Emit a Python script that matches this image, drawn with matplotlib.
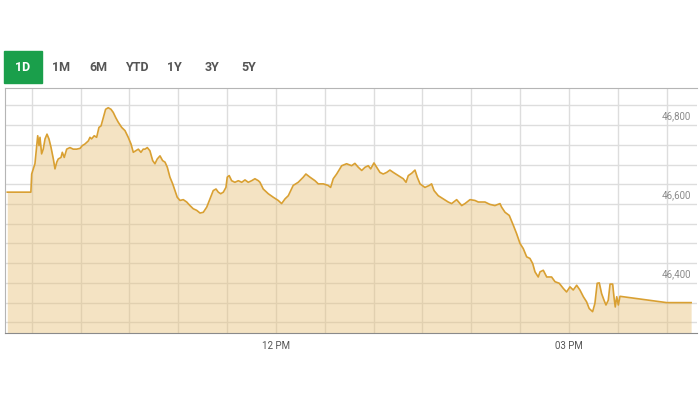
import matplotlib
matplotlib.use("Agg")
from matplotlib import pyplot as plt

# KSE-100 intraday, minutes after 09:30
minutes = [-15, -0.5, 0, 2.0, 3.7, 4.5, 5.1, 6.1, 7.1, 8.2, 9.4, 10.6, 11.9, 13.3, 14.3, 15.4,
           16.3, 18.0, 18.8, 20.0, 21.5, 23.5, 25.5, 27.6, 29.7, 31.1, 32.7, 34.8, 35.8, 36.8,
           38.4, 39.9, 41.3, 42.6, 44.0, 45.4, 47.0, 48.7, 50.1, 51.6, 53.2, 55.3, 57.3, 59.3,
           61.0, 62.4, 63.9, 65.5, 67.1, 68.5, 69.6, 71.0, 72.6, 74.3, 75.7, 77.1, 78.8, 80.4,
           81.9, 83.3, 84.9, 86.6, 88.0, 89.4, 91.1, 93.1, 95.2, 97.2, 99.2, 101.3, 103.4, 105.4,
           107.5, 109.5, 111.5, 113.2, 114.6, 116.1, 117.7, 119.3, 120.1, 121.3, 122.8, 124.8,
           126.9, 129.0, 131.0, 133.0, 135.1, 137.1, 139.2, 140.2, 142.2, 145.3, 148.4, 151.4,
           153.5, 155.6, 157.6, 160.6, 163.7, 166.8, 168.4, 170.9, 174.0, 176.0, 179.1, 182.1,
           183.6, 185.2, 187.3, 190.4, 193.4, 196.5, 198.5, 200.6, 202.7, 204.7, 206.7, 208.2,
           210.2, 211.9, 213.9, 215.9, 218.0, 220.0, 222.1, 225.1, 228.2, 229.9, 231.3, 233.4,
           235.4, 236.8, 238.5, 241.5, 244.2, 245.6, 247.1, 249.7, 252.8, 255.8, 257.9, 261.0,
           264.1, 266.1, 269.2, 272.2, 274.3, 275.3, 278.4, 281.4, 284.5, 287.6, 288.6, 290.7,
           293.3, 295.8, 297.8, 299.9, 301.9, 304.0, 306.0, 307.7, 309.1, 311.1, 312.2, 314.2,
           316.3, 319.3, 321.4, 324.0, 326.5, 328.5, 330.6, 332.6, 334.7, 336.7, 338.8, 340.8,
           342.4, 344.5, 345.9, 347.3, 348.6, 350.0, 351.5, 352.7, 354.1, 355.2, 356.8, 357.6,
           358.4, 359.3, 360.3, 361.3, 390.0, 405.0]
index = [46630, 46630, 46676, 46702, 46773, 46748, 46769, 46727, 46739, 46765, 46777, 46765,
         46743, 46714, 46689, 46706, 46714, 46718, 46731, 46718, 46739, 46743, 46739, 46739,
         46741, 46748, 46752, 46760, 46769, 46765, 46773, 46769, 46794, 46798, 46819, 46840,
         46844, 46840, 46832, 46819, 46807, 46794, 46786, 46769, 46752, 46731, 46735, 46739,
         46731, 46739, 46739, 46743, 46735, 46710, 46702, 46714, 46722, 46710, 46706, 46693,
         46668, 46651, 46634, 46617, 46609, 46611, 46605, 46596, 46588, 46584, 46577, 46579,
         46592, 46613, 46634, 46638, 46630, 46626, 46630, 46642, 46668, 46672, 46659, 46655,
         46659, 46655, 46661, 46655, 46659, 46664, 46659, 46655, 46638, 46626, 46617, 46609,
         46601, 46613, 46621, 46647, 46655, 46668, 46676, 46668, 46659, 46651, 46651, 46647,
         46642, 46664, 46676, 46697, 46702, 46697, 46703, 46693, 46685, 46693, 46697, 46689,
         46704, 46693, 46680, 46676, 46680, 46686, 46680, 46672, 46664, 46655, 46672, 46678,
         46686, 46668, 46651, 46642, 46647, 46651, 46634, 46621, 46613, 46605, 46601, 46611,
         46596, 46601, 46611, 46609, 46605, 46605, 46605, 46599, 46596, 46601, 46592, 46579,
         46571, 46546, 46525, 46500, 46487, 46466, 46462, 46449, 46428, 46415, 46428, 46432,
         46415, 46415, 46403, 46399, 46386, 46377, 46390, 46382, 46394, 46382, 46365, 46352,
         46335, 46327, 46348, 46399, 46400, 46373, 46356, 46344, 46356, 46397, 46397, 46365,
         46339, 46365, 46344, 46366, 46350, 46350]

periods = ["1D", "1M", "6M", "YTD", "1Y", "3Y", "5Y"]
y_ticks = [46400, 46600, 46800]
y_tick_labels = ["46,400", "46,600", "46,800"]
x_ticks = [150, 330]
x_tick_labels = ["12 PM", "03 PM"]

plt.rcParams["font.family"] = ["Roboto", "DejaVu Sans"]

fig = plt.figure(figsize=(7, 4), dpi=100)
ax = fig.add_axes([4.5 / 700, 67 / 400, 692.5 / 700, 245 / 400])

ax.fill_between(minutes, index, 46273, color="#e8c27a", alpha=0.45, lw=0, zorder=2)
ax.plot(minutes, index, color="#d9a032", lw=1.2, zorder=3)

ax.set_xlim(-16.7, 408.6)
ax.set_ylim(46273, 46894)

# grid every 30 min / 50 points
for m in range(0, 391, 30):
    ax.axvline(m, color="#dddddd", lw=1, zorder=1)
for v in range(46300, 46851, 50):
    ax.axhline(v, color="#dddddd", lw=1, zorder=1)

ax.set_xticks([])
ax.set_yticks([])
for v, lab in zip(y_ticks, y_tick_labels):
    ax.annotate(lab, xy=(405, v), xytext=(0, 3), textcoords="offset points",
                ha="right", va="bottom", fontsize=7, color="#8a8a8a")
for m, lab in zip(x_ticks, x_tick_labels):
    ax.annotate(lab, xy=(m, 46273), xytext=(0, -6), textcoords="offset points",
                ha="center", va="top", fontsize=7, color="#555555", annotation_clip=False)

ax.spines["right"].set_visible(False)
ax.spines["top"].set_color("#b5b5b5")
ax.spines["left"].set_color("#b5b5b5")
ax.spines["bottom"].set_color("#8a8a8a")

# period selector buttons
btn_x = [23, 61, 98.3, 136.7, 174, 211.7, 249.3]
fig.patches.append(plt.Rectangle((4 / 700, (400 - 83.3) / 400), 38 / 700, 32.6 / 400,
                                 transform=fig.transFigure, color="#1a9f4b"))
for bx, p in zip(btn_x, periods):
    fig.text(bx / 700, (400 - 67.3) / 400, p, ha="center", va="center", fontsize=9,
             fontweight="bold", color="white" if p == "1D" else "#555555")

fig.savefig("out.png")
